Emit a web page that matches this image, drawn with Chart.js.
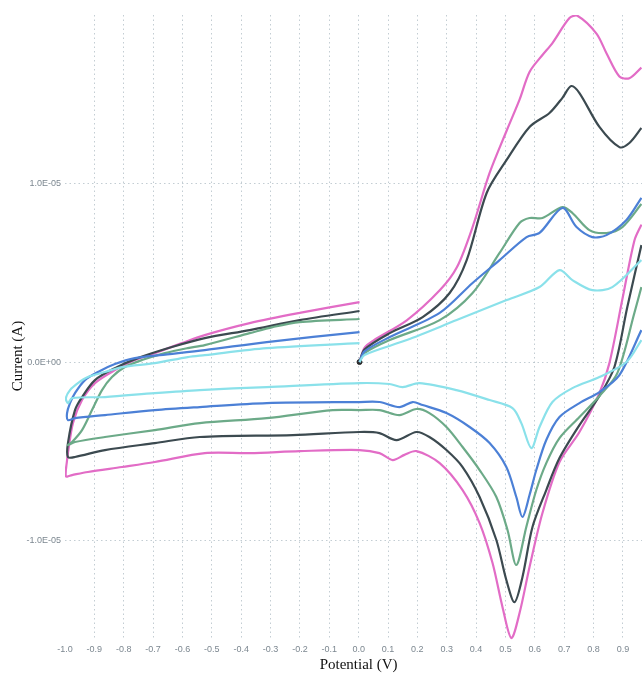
<!DOCTYPE html>
<html>
<head>
<meta charset="utf-8">
<script src="https://cdn.jsdelivr.net/npm/chart.js@4"></script>
<style>
  html, body { margin: 0; padding: 0; background: #fff; overflow: hidden; }
  #wrap { width: 642px; height: 673px; position: relative; }
  #wrap canvas { display: block; }
</style>
</head>
<body>
<div id="wrap"><canvas id="cvChart"></canvas></div>
<script>
// Cyclic voltammograms, potential (V) vs current (uA)
// each scan: anodic 0 -> 0.96 V, then cathodic 0.96 -> -1.0 -> 0 V

const xTicks = [-1.0, -0.9, -0.8, -0.7, -0.6, -0.5, -0.4, -0.3, -0.2, -0.1, 0.0, 0.1, 0.2, 0.3, 0.4, 0.5, 0.6, 0.7, 0.8, 0.9];
const yTicks = [-1e-5, 0, 1e-5];
const startPoint = [0.003, 0];

const pinkAnodic = [[0.003,0],[0.02,0.8],[0.05,1.2],[0.165,2.35],[0.277,4.03],[0.335,5.32],[0.388,7.56],[0.446,10.59],[0.505,13.0],[0.548,14.7],[0.582,16.25],[0.626,17.2],[0.66,17.87],[0.718,19.27],[0.745,19.4],[0.81,18.4],[0.844,17.3],[0.888,16.0],[0.922,15.9],[0.963,16.5]];
const pinkCathodic = [[0.963,7.7],[0.939,6.8],[0.898,3.5],[0.854,-0.06],[0.82,-1.74],[0.752,-3.92],[0.684,-5.6],[0.626,-8.46],[0.582,-11.48],[0.548,-14.06],[0.52,-15.46],[0.49,-13.73],[0.456,-11.26],[0.412,-9.02],[0.354,-7.17],[0.276,-5.66],[0.197,-4.99],[0.156,-5.2],[0.116,-5.49],[0.071,-5.1],[0.003,-4.93],[-0.201,-4.99],[-0.371,-5.1],[-0.524,-5.1],[-0.694,-5.6],[-0.806,-5.88],[-0.922,-6.16],[-0.976,-6.33],[-0.997,-6.4],[-0.993,-5.49],[-0.99,-5.1],[-0.973,-3.42],[-0.942,-2.13],[-0.898,-1.18],[-0.83,-0.45],[-0.762,0.11],[-0.694,0.5],[-0.602,1.06],[-0.524,1.51],[-0.371,2.18],[-0.201,2.75],[0.003,3.36]];

const darkAnodic = [[0.003,0],[0.02,0.7],[0.106,1.62],[0.218,2.52],[0.31,3.87],[0.368,5.71],[0.436,9.47],[0.504,11.32],[0.582,13.17],[0.65,13.95],[0.694,14.8],[0.724,15.46],[0.752,15.07],[0.82,13.17],[0.888,12.04],[0.922,12.27],[0.963,13.11]];
const darkCathodic = [[0.963,6.55],[0.915,3.08],[0.871,-0.28],[0.82,-1.9],[0.752,-3.53],[0.684,-5.38],[0.639,-7.17],[0.592,-9.24],[0.558,-12.04],[0.531,-13.45],[0.503,-12.21],[0.469,-9.97],[0.412,-7.56],[0.354,-5.88],[0.299,-4.93],[0.241,-4.2],[0.197,-3.92],[0.129,-4.37],[0.071,-3.98],[0.003,-3.92],[-0.224,-4.09],[-0.541,-4.2],[-0.694,-4.54],[-0.864,-4.93],[-0.966,-5.32],[-0.99,-5.32],[-0.99,-4.54],[-0.966,-2.69],[-0.942,-1.96],[-0.898,-1.01],[-0.83,-0.34],[-0.752,0.22],[-0.636,0.84],[-0.524,1.34],[-0.371,1.79],[-0.201,2.35],[0.003,2.86]];

const greenAnodic = [[0.003,0],[0.02,0.5],[0.106,1.23],[0.276,2.35],[0.388,3.87],[0.48,6.11],[0.548,7.79],[0.582,8.07],[0.626,8.07],[0.694,8.68],[0.728,8.35],[0.786,7.39],[0.844,7.23],[0.898,7.56],[0.963,8.85]];
const greenCathodic = [[0.963,4.2],[0.939,2.75],[0.881,-0.62],[0.82,-1.9],[0.752,-3.08],[0.684,-4.26],[0.639,-5.66],[0.605,-7.17],[0.571,-9.24],[0.537,-11.37],[0.507,-9.41],[0.469,-7.56],[0.412,-6.05],[0.354,-4.76],[0.299,-3.64],[0.241,-2.86],[0.197,-2.63],[0.139,-2.97],[0.071,-2.69],[0.003,-2.69],[-0.088,-2.69],[-0.313,-3.14],[-0.541,-3.42],[-0.694,-3.81],[-0.864,-4.2],[-0.966,-4.48],[-0.99,-4.65],[-0.976,-4.48],[-0.942,-3.81],[-0.908,-2.69],[-0.874,-1.57],[-0.84,-0.84],[-0.796,-0.28],[-0.738,0.11],[-0.66,0.5],[-0.582,0.78],[-0.524,0.95],[-0.371,1.62],[-0.293,1.96],[-0.201,2.24],[0.003,2.41]];

const blueAnodic = [[0.003,0],[0.02,0.6],[0.106,1.4],[0.276,2.75],[0.388,4.43],[0.48,5.71],[0.572,7.0],[0.616,7.23],[0.694,8.63],[0.742,7.56],[0.796,7.0],[0.844,7.11],[0.912,7.96],[0.963,9.2]];
const blueCathodic = [[0.963,1.79],[0.888,-0.73],[0.82,-1.68],[0.752,-2.3],[0.684,-3.08],[0.639,-4.37],[0.605,-6.05],[0.582,-7.45],[0.558,-8.68],[0.537,-7.56],[0.503,-5.88],[0.446,-4.54],[0.378,-3.64],[0.299,-2.86],[0.218,-2.41],[0.184,-2.24],[0.139,-2.52],[0.071,-2.24],[0.003,-2.24],[-0.313,-2.3],[-0.541,-2.52],[-0.694,-2.69],[-0.864,-2.97],[-0.966,-3.14],[-0.99,-3.25],[-0.993,-2.86],[-0.983,-2.3],[-0.966,-1.74],[-0.932,-1.01],[-0.881,-0.5],[-0.83,-0.11],[-0.762,0.22],[-0.677,0.39],[-0.524,0.67],[-0.313,1.12],[0.003,1.68]];

const cyanAnodic = [[0.003,0],[0.02,0.4],[0.164,1.23],[0.334,2.35],[0.504,3.47],[0.616,4.2],[0.684,5.15],[0.728,4.59],[0.796,4.03],[0.864,4.2],[0.963,5.71]];
const cyanCathodic = [[0.963,1.23],[0.912,0.0],[0.82,-0.84],[0.728,-1.46],[0.66,-2.24],[0.616,-3.64],[0.588,-4.82],[0.554,-3.42],[0.524,-2.58],[0.446,-2.13],[0.333,-1.57],[0.207,-1.18],[0.15,-1.4],[0.105,-1.23],[0.003,-1.18],[-0.313,-1.4],[-0.541,-1.57],[-0.694,-1.74],[-0.864,-1.96],[-0.976,-2.02],[-0.99,-2.3],[-0.997,-2.02],[-0.983,-1.57],[-0.956,-1.18],[-0.922,-0.84],[-0.864,-0.56],[-0.806,-0.28],[-0.694,-0.06],[-0.582,0.28],[-0.524,0.39],[-0.313,0.78],[0.003,1.06]];

const gridColor = 'rgba(175,188,196,0.75)';
const tickColor = '#7c8790';

// uA -> A
function toPoints(arr) {
  return arr.map(p => ({ x: p[0], y: p[1] * 1e-6 }));
}

function sciLabel(v) {
  if (v === 0) return '0.0E+00';
  const e = Math.floor(Math.log10(Math.abs(v)) + 1e-9);
  const m = v / Math.pow(10, e);
  return m.toFixed(1) + 'E' + (e < 0 ? '-' : '+') + String(Math.abs(e)).padStart(2, '0');
}

function scan(data, color) {
  return {
    data: toPoints(data),
    showLine: true,
    borderColor: color,
    borderWidth: 2.2,
    pointRadius: 0,
    tension: 0.3,
    fill: false
  };
}

const axisTitles = {
  id: 'axisTitles',
  afterDraw(chart) {
    const { ctx, scales } = chart;
    ctx.save();
    ctx.font = '15px "Liberation Serif", "Times New Roman", serif';
    ctx.fillStyle = '#111';
    ctx.textAlign = 'center';
    ctx.textBaseline = 'middle';
    ctx.fillText('Potential (V)', scales.x.getPixelForValue(0), 665);
    ctx.translate(18, scales.y.getPixelForValue(0) - 6);
    ctx.rotate(-Math.PI / 2);
    ctx.fillText('Current (A)', 0, 0);
    ctx.restore();
  }
};

document.addEventListener('DOMContentLoaded', function () {
  const ctx = document.getElementById('cvChart').getContext('2d');
  new Chart(ctx, {
    type: 'scatter',
    data: {
      datasets: [
        scan(cyanAnodic, '#8ae1ea'),
        scan(cyanCathodic, '#8ae1ea'),
        scan(blueAnodic, '#4c80d6'),
        scan(blueCathodic, '#4c80d6'),
        scan(greenAnodic, '#6caa88'),
        scan(greenCathodic, '#6caa88'),
        scan(darkAnodic, '#3c4a50'),
        scan(darkCathodic, '#3c4a50'),
        scan(pinkAnodic, '#e26cc6'),
        scan(pinkCathodic, '#e26cc6'),
        {
          data: [{ x: startPoint[0], y: startPoint[1] }],
          pointRadius: 2.5,
          pointBackgroundColor: '#2a2a2a',
          pointBorderColor: '#2a2a2a',
          pointBorderWidth: 1
        }
      ]
    },
    options: {
      responsive: true,
      maintainAspectRatio: false,
      animation: false,
      layout: { autoPadding: false, padding: { top: 15, right: 0, left: 0, bottom: 0 } },
      plugins: {
        legend: { display: false },
        tooltip: { enabled: false }
      },
      scales: {
        x: {
          type: 'linear',
          min: -1.0,
          max: 0.965,
          afterBuildTicks: s => { s.ticks = xTicks.map(v => ({ value: v })); },
          afterFit: s => { s.height = 33; s.paddingLeft = 0; s.paddingRight = 0; },
          ticks: {
            color: tickColor,
            font: { family: '"Liberation Sans", Arial, sans-serif', size: 9 },
            padding: 4,
            maxRotation: 0,
            autoSkip: false,
            callback: v => v.toFixed(1)
          },
          grid: {
            color: c => (c.tick && c.tick.value === -1) ? 'rgba(0,0,0,0)' : gridColor,
            lineWidth: 1,
            drawTicks: false
          },
          border: { display: false, dash: [1.5, 3] }
        },
        y: {
          type: 'linear',
          min: -1.557e-5,
          max: 1.944e-5,
          afterBuildTicks: s => { s.ticks = yTicks.map(v => ({ value: v })); },
          afterFit: s => { s.width = 65; s.paddingTop = 0; s.paddingBottom = 0; },
          ticks: {
            color: tickColor,
            font: { family: '"Liberation Sans", Arial, sans-serif', size: 9 },
            padding: 4,
            callback: v => sciLabel(v)
          },
          grid: {
            color: gridColor,
            lineWidth: 1,
            drawTicks: false
          },
          border: { display: false, dash: [1.5, 3] }
        }
      }
    },
    plugins: [axisTitles]
  });
});
</script>
</body>
</html>
